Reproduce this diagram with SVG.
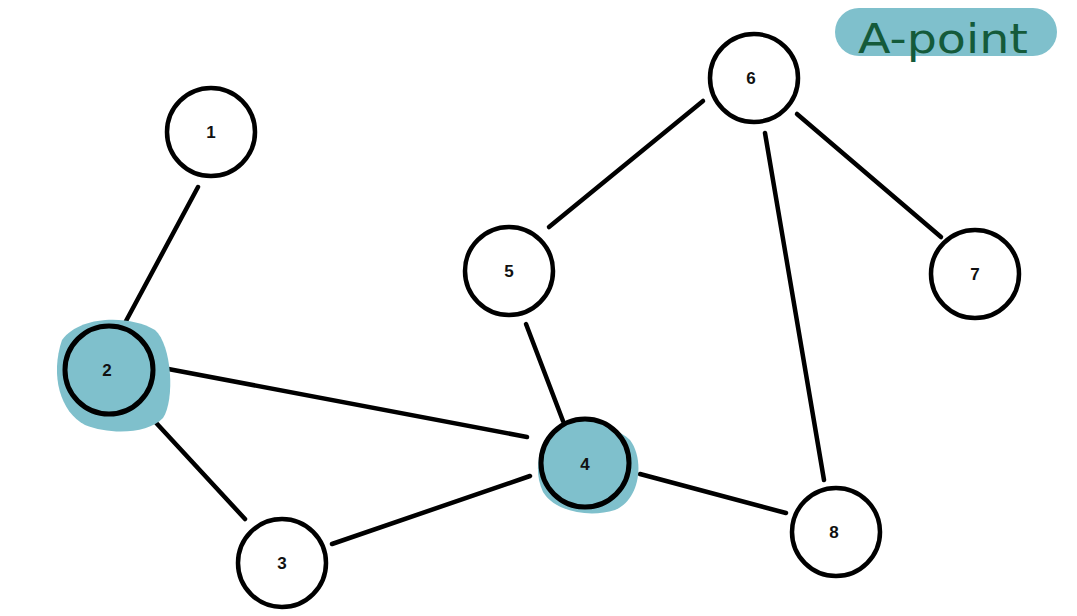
<svg xmlns="http://www.w3.org/2000/svg" width="1077" height="616" viewBox="0 0 1077 616">
<style>
.n circle.c{fill:#fff;stroke:#000;stroke-width:4.5}
.n circle.h{fill:#7fc0cc;stroke:#000;stroke-width:5}
.n text{font-family:"Liberation Sans",Arial,sans-serif;font-weight:bold;font-size:17px;text-anchor:middle;fill:#111}
.blob{fill:#7fc0cc}
#edges line{stroke:#000;stroke-width:4.5;stroke-linecap:round}
</style>
<rect width="1077" height="616" fill="#fff"/>
<g id="label">
<rect x="835" y="8" width="222" height="48" rx="24" fill="#7fc0cc"/>
<text x="858" y="53" font-family="'DejaVu Sans',sans-serif" font-size="40" fill="#145a3a" textLength="170" lengthAdjust="spacingAndGlyphs">A-point</text>
</g>
<g id="edges">
<line x1="198" y1="187" x2="126" y2="321"/>
<line x1="163" y1="368" x2="527" y2="437"/>
<line x1="147" y1="413" x2="245" y2="519"/>
<line x1="332" y1="544" x2="530" y2="476"/>
<line x1="563" y1="421" x2="526" y2="324"/>
<line x1="640" y1="474" x2="786" y2="513"/>
<line x1="549" y1="227" x2="703" y2="101"/>
<line x1="797" y1="114" x2="941" y2="237"/>
<line x1="765" y1="133" x2="824" y2="480"/>
</g>
<g id="node1" class="n"><circle class="c" cx="211" cy="132" r="44"/><text x="211" y="138">1</text></g>
<g id="node2" class="n"><path class="blob" d="M62,340 C80,315 130,315 155,330 C172,345 175,400 163,418 C148,434 110,435 85,425 C60,412 50,375 62,340Z"/><circle class="h" cx="109" cy="370" r="44"/><text x="107" y="376">2</text></g>
<g id="node3" class="n"><circle class="c" cx="282" cy="563" r="44"/><text x="282" y="569">3</text></g>
<g id="node4" class="n"><path class="blob" d="M545,440 C560,420 610,420 630,440 C645,460 640,500 615,510 C590,518 555,512 543,492 C535,475 537,455 545,440Z"/><circle class="h" cx="585" cy="463" r="44"/><text x="585" y="470">4</text></g>
<g id="node5" class="n"><circle class="c" cx="509" cy="271" r="44"/><text x="509" y="277">5</text></g>
<g id="node6" class="n"><circle class="c" cx="754" cy="78" r="44"/><text x="751" y="84">6</text></g>
<g id="node7" class="n"><circle class="c" cx="975" cy="274" r="44"/><text x="975" y="280">7</text></g>
<g id="node8" class="n"><circle class="c" cx="836" cy="532" r="44"/><text x="834" y="538">8</text></g>
</svg>
